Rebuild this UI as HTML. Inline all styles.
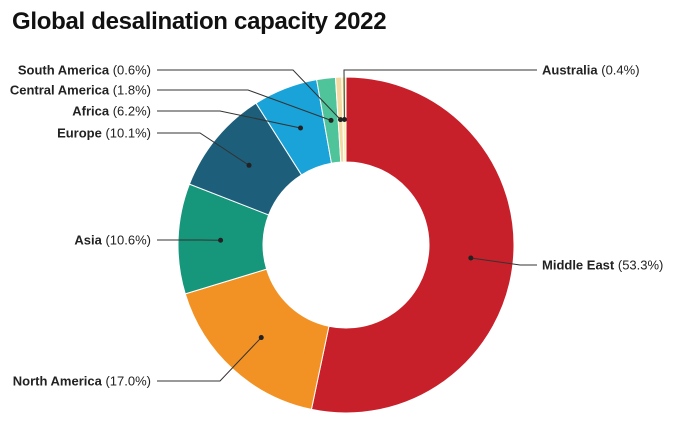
<!DOCTYPE html>
<html><head><meta charset="utf-8"><style>
body{margin:0;background:#fff;width:693px;height:425px;overflow:hidden;font-family:"Liberation Sans",sans-serif}
h1{position:absolute;left:12px;top:8px;margin:0;font-size:24px;font-weight:bold;color:#111;letter-spacing:-0.3px}
</style></head><body>
<h1>Global desalination capacity 2022</h1>
<svg id="c" width="693" height="425" style="position:absolute;left:0;top:0"></svg>
<script>
const categories=["Middle East","North America","Asia","Europe","Africa","Central America","South America","Australia"];
const values=[53.3,17.0,10.6,10.1,6.2,1.8,0.6,0.4];
const colors=["#c8202a","#f39224","#16967b","#1d5f7a","#1aa3d8","#4fc49b","#f5d9a2","#fbf0b0"];
const labelY=[265,381,240,133,111,90,70,70];
const labelSide=["r","l","l","l","l","l","l","r"];
const elbowX=[520,220,200,200,220,248,293,344];
const svg=document.getElementById('c');const NS="http://www.w3.org/2000/svg";
const cx=346,cy=245,R=168,r=83,total=values.reduce((a,b)=>a+b,0);
function pt(a,rad){return [cx+rad*Math.sin(a),cy-rad*Math.cos(a)];}
let a0=0;
values.forEach((v,i)=>{
 const a1=a0+v/total*2*Math.PI;const big=(a1-a0)>Math.PI?1:0;
 const p1=pt(a0,R),p2=pt(a1,R),p3=pt(a1,r),p4=pt(a0,r);
 const p=document.createElementNS(NS,'path');
 p.setAttribute('d',`M${p1}A${R},${R} 0 ${big} 1 ${p2}L${p3}A${r},${r} 0 ${big} 0 ${p4}Z`);
 p.setAttribute('fill',colors[i]);p.setAttribute('stroke','#fff');p.setAttribute('stroke-width','1');
 
 
 svg.appendChild(p);
 const d=pt((a0+a1)/2,(R+r)/2);
 const y=labelY[i],side=labelSide[i];
 const sx=side==='l'?157:537;
 const l=document.createElementNS(NS,'polyline');
 l.setAttribute('points',`${sx},${y} ${elbowX[i]},${y} ${d[0]},${d[1]}`);
 l.setAttribute('fill','none');l.setAttribute('stroke','#333');l.setAttribute('stroke-width','1');
 
 
 svg.appendChild(l);
 const c=document.createElementNS(NS,'circle');c.setAttribute('cx',d[0]);c.setAttribute('cy',d[1]);c.setAttribute('r',2.5);c.setAttribute('fill','#222');
 
 
 svg.appendChild(c);
 const t=document.createElementNS(NS,'text');
 t.setAttribute('x',side==='l'?151:542);t.setAttribute('y',y+4.5);
 t.setAttribute('text-anchor',side==='l'?'end':'start');t.setAttribute('font-size','13');t.setAttribute('fill','#222');
 t.innerHTML=`<tspan font-weight="bold">${categories[i]}</tspan> (${v.toFixed(1)}%)`;
 
 
 svg.appendChild(t);
 a0=a1;
});
</script>
</body></html>
